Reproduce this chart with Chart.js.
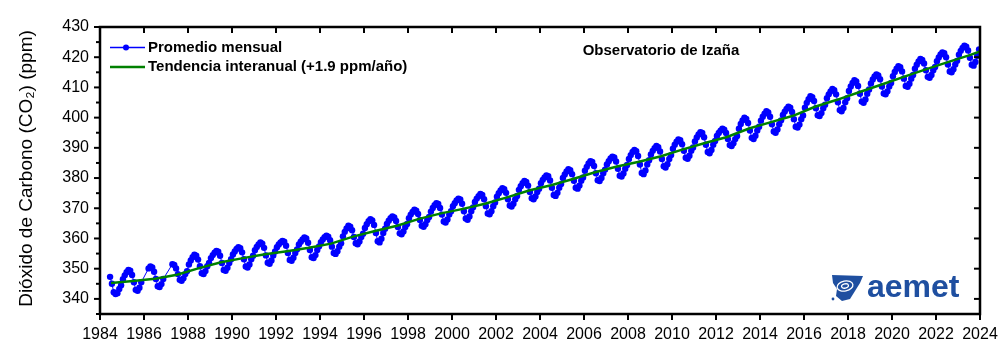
<!DOCTYPE html>
<html>
<head>
<meta charset="utf-8">
<script src="https://cdn.jsdelivr.net/npm/chart.js@4.4.1/dist/chart.umd.min.js"></script>
<style>
  html, body { margin: 0; padding: 0; background: #fff; }
</style>
</head>
<body>
<canvas id="co2Chart" width="1000" height="361"></canvas>
<script>
// monthly means at Izaña, Jan..Dec per row, starting Jan 1984 (null = no data)
const startYear = 1984;
const co2Monthly = [
    null, null, null, null, null, 347.3, 345.0, 342.2, 341.6, 341.9, 343.3, 344.5,
    346.5, 347.8, 348.8, 349.6, 349.3, 347.9, 345.5, 343.0, 342.7, 343.7, 345.5, null,
    null, null, 350.1, 350.7, 350.4, 349.0, 346.6, 344.2, 343.9, 344.9, 346.6, null,
    null, null, null, 351.5, 351.2, 350.1, 348.2, 346.3, 346.0, 346.8, 348.2, 349.2,
    351.4, 352.7, 353.8, 354.6, 354.3, 353.0, 350.8, 348.5, 348.2, 349.2, 350.8, 351.9,
    353.5, 354.5, 355.3, 355.9, 355.6, 354.3, 351.9, 349.6, 349.3, 350.3, 351.9, 353.1,
    354.7, 355.7, 356.5, 357.1, 356.8, 355.4, 353.1, 350.7, 350.4, 351.4, 353.1, 354.3,
    356.1, 357.2, 358.0, 358.7, 358.3, 356.9, 354.4, 352.0, 351.6, 352.7, 354.4, 355.7,
    357.1, 358.0, 358.7, 359.2, 358.9, 357.6, 355.2, 352.9, 352.6, 353.6, 355.2, 356.4,
    358.0, 358.9, 359.7, 360.3, 360.0, 358.6, 356.2, 353.8, 353.5, 354.5, 356.2, 357.4,
    358.8, 359.7, 360.4, 360.9, 360.6, 359.4, 357.3, 355.2, 354.9, 355.8, 357.3, 358.4,
    360.7, 362.2, 363.3, 364.2, 363.9, 362.7, 360.5, 358.4, 358.1, 359.0, 360.5, 361.6,
    363.5, 364.7, 365.7, 366.4, 366.0, 364.5, 361.8, 359.1, 358.7, 359.9, 361.8, 363.2,
    364.8, 365.9, 366.7, 367.3, 367.0, 365.8, 363.8, 361.7, 361.4, 362.3, 363.8, 364.8,
    366.7, 367.9, 368.8, 369.5, 369.2, 368.1, 366.1, 364.2, 363.9, 364.7, 366.1, 367.1,
    368.9, 370.1, 371.0, 371.7, 371.4, 370.1, 367.9, 365.6, 365.3, 366.3, 367.9, 369.0,
    370.7, 371.7, 372.6, 373.2, 372.9, 371.5, 369.0, 366.6, 366.2, 367.3, 369.0, 370.3,
    372.1, 373.2, 374.0, 374.7, 374.4, 373.0, 370.7, 368.3, 368.0, 369.0, 370.7, 371.9,
    373.8, 375.0, 375.9, 376.6, 376.3, 375.1, 373.0, 370.9, 370.6, 371.5, 373.0, 374.1,
    376.1, 377.3, 378.3, 379.0, 378.7, 377.5, 375.4, 373.3, 373.0, 373.9, 375.4, 376.5,
    378.3, 379.4, 380.2, 380.9, 380.6, 379.2, 376.8, 374.4, 374.1, 375.1, 376.8, 378.0,
    380.0, 381.2, 382.2, 382.9, 382.6, 381.3, 379.1, 376.8, 376.5, 377.5, 379.1, 380.2,
    382.4, 383.7, 384.8, 385.6, 385.3, 384.0, 381.6, 379.3, 379.0, 380.0, 381.6, 382.8,
    384.5, 385.6, 386.5, 387.1, 386.8, 385.5, 383.1, 380.8, 380.5, 381.5, 383.1, 384.3,
    386.3, 387.6, 388.6, 389.3, 388.9, 387.3, 384.5, 381.7, 381.3, 382.5, 384.5, 385.9,
    387.8, 389.0, 389.9, 390.6, 390.2, 388.8, 386.3, 383.9, 383.5, 384.6, 386.3, 387.6,
    389.7, 391.0, 392.0, 392.8, 392.5, 391.2, 389.0, 386.7, 386.4, 387.4, 389.0, 390.1,
    392.1, 393.4, 394.4, 395.2, 394.9, 393.5, 391.0, 388.6, 388.2, 389.3, 391.0, 392.3,
    393.9, 394.9, 395.7, 396.3, 396.0, 394.9, 392.9, 390.9, 390.6, 391.5, 392.9, 393.9,
    396.3, 397.9, 399.1, 400.0, 399.6, 398.2, 395.7, 393.3, 392.9, 394.0, 395.7, 397.0,
    399.0, 400.3, 401.3, 402.1, 401.7, 400.3, 397.8, 395.4, 395.0, 396.1, 397.8, 399.1,
    400.9, 402.0, 402.9, 403.6, 403.3, 401.9, 399.5, 397.0, 396.7, 397.7, 399.5, 400.7,
    403.3, 404.9, 406.1, 407.1, 406.8, 405.5, 403.1, 400.8, 400.5, 401.5, 403.1, 404.3,
    406.4, 407.7, 408.7, 409.5, 409.1, 407.7, 405.1, 402.5, 402.1, 403.2, 405.1, 406.4,
    408.8, 410.3, 411.5, 412.4, 412.0, 410.5, 407.9, 405.3, 404.9, 406.0, 407.9, 409.3,
    411.3, 412.6, 413.6, 414.3, 414.0, 412.7, 410.3, 408.0, 407.7, 408.7, 410.3, 411.5,
    413.7, 415.1, 416.2, 417.0, 416.7, 415.3, 412.9, 410.5, 410.2, 411.2, 412.9, 414.1,
    416.2, 417.5, 418.6, 419.4, 419.1, 417.9, 415.7, 413.5, 413.2, 414.1, 415.7, 416.8,
    418.7, 419.9, 420.9, 421.6, 421.3, 420.0, 417.6, 415.3, 415.0, 416.0, 417.6, 418.8,
    420.8, 422.1, 423.1, 423.8, 423.5, 422.2, 419.8, 417.5, 417.2, 418.4, 420.5, 422.6
];

// interannual trend (deseasonalised)
const trendYears = [1984.5, 1985.5, 1986.5, 1987.5, 1988.5, 1989.5, 1990.5, 1991.5, 1992.5, 1993.5,
    1994.5, 1995.5, 1996.5, 1997.5, 1998.5, 1999.5, 2000.5, 2001.5, 2002.5, 2003.5,
    2004.5, 2005.5, 2006.5, 2007.5, 2008.5, 2009.5, 2010.5, 2011.5, 2012.5, 2013.5,
    2014.5, 2015.5, 2016.5, 2017.5, 2018.5, 2019.5, 2020.5, 2021.5, 2022.5, 2023.5, 2024.0];
const trendValues = [345.3, 345.9, 346.7, 348.0, 350.2, 352.1, 353.5, 354.8, 355.8, 356.9,
    358.3, 360.6, 362.5, 364.2, 366.5, 368.3, 369.8, 371.5, 373.6, 375.9,
    377.6, 379.7, 381.9, 383.8, 385.4, 387.2, 389.5, 391.6, 393.6, 396.4,
    398.5, 400.6, 403.6, 405.9, 408.4, 410.9, 413.4, 415.9, 418.3, 420.6, 421.9];

const xTicks = [1984, 1986, 1988, 1990, 1992, 1994, 1996, 1998, 2000, 2002, 2004,
    2006, 2008, 2010, 2012, 2014, 2016, 2018, 2020, 2022, 2024];
const yTicks = [340, 350, 360, 370, 380, 390, 400, 410, 420, 430];

const monthlyPoints = co2Monthly.map((v, i) => ({ x: startYear + (i + 0.5) / 12, y: v }));
const trendPoints = trendYears.map((t, i) => ({ x: t, y: trendValues[i] }));

const tickFont = { family: 'Liberation Sans, Arial, sans-serif', size: 16 };

function seg(ctx, x1, y1, x2, y2) {
    ctx.beginPath();
    ctx.moveTo(x1, y1);
    ctx.lineTo(x2, y2);
    ctx.stroke();
}

// frame, ticks, legend, labels and logo
const decorations = {
    id: 'decorations',
    afterDraw(chart) {
        const { ctx, chartArea: a, scales: { x, y } } = chart;
        ctx.save();
        ctx.strokeStyle = '#000';
        ctx.lineWidth = 2.5;
        ctx.strokeRect(a.left, a.top, a.right - a.left, a.bottom - a.top);

        ctx.lineWidth = 2;
        xTicks.forEach(t => {
            const px = x.getPixelForValue(t);
            seg(ctx, px, a.bottom, px, a.bottom + 6);
            seg(ctx, px, a.top, px, a.top + 6);
        });
        yTicks.forEach(v => {
            const py = y.getPixelForValue(v);
            seg(ctx, a.left - 6, py, a.left, py);
            seg(ctx, a.right - 6, py, a.right, py);
            const pm = y.getPixelForValue(v - 5);
            seg(ctx, a.left - 4, pm, a.left, pm);
        });

        // y axis title
        ctx.fillStyle = '#000';
        ctx.font = '19px "Liberation Sans", Arial, sans-serif';
        ctx.textAlign = 'center';
        ctx.textBaseline = 'middle';
        ctx.save();
        ctx.translate(27, (a.top + a.bottom) / 2 - 2);
        ctx.rotate(-Math.PI / 2);
        ctx.fillText('Dióxido de Carbono (CO₂) (ppm)', 0, 0);
        ctx.restore();

        // legend
        ctx.lineWidth = 1.5;
        ctx.strokeStyle = '#0000ff';
        seg(ctx, 110, 47.5, 145, 47.5);
        ctx.fillStyle = '#0000ff';
        ctx.beginPath();
        ctx.arc(126, 47.5, 3, 0, Math.PI * 2);
        ctx.fill();
        ctx.strokeStyle = '#008000';
        ctx.lineWidth = 2.5;
        seg(ctx, 110, 67, 145, 67);

        ctx.fillStyle = '#000';
        ctx.font = 'bold 15px "Liberation Sans", Arial, sans-serif';
        ctx.textAlign = 'left';
        ctx.fillText('Promedio mensual', 148, 47.5);
        ctx.fillText('Tendencia interanual (+1.9 ppm/año)', 148, 67);
        ctx.textAlign = 'center';
        ctx.fillText('Observatorio de Izaña', 661, 51);

        // aemet logo
        ctx.fillStyle = '#1f4fa0';
        ctx.beginPath();
        ctx.moveTo(832, 275);
        ctx.lineTo(863, 276);
        ctx.lineTo(860, 283);
        ctx.lineTo(855, 291);
        ctx.lineTo(850, 299);
        ctx.lineTo(842, 301);
        ctx.lineTo(836, 296);
        ctx.lineTo(837, 289);
        ctx.lineTo(833, 283);
        ctx.closePath();
        ctx.fill();
        ctx.strokeStyle = '#fff';
        ctx.lineWidth = 1.3;
        ctx.beginPath();
        ctx.ellipse(845, 286, 8, 5, -0.2, 0, Math.PI * 2);
        ctx.stroke();
        ctx.beginPath();
        ctx.ellipse(845, 286, 3.5, 2.2, -0.2, 0, Math.PI * 2);
        ctx.stroke();
        ctx.fillStyle = '#1f4fa0';
        ctx.beginPath();
        ctx.arc(833, 299, 1.4, 0, Math.PI * 2);
        ctx.fill();
        ctx.font = 'bold 32px "Liberation Sans", Arial, sans-serif';
        ctx.textAlign = 'left';
        ctx.textBaseline = 'alphabetic';
        ctx.fillText('aemet', 867, 297);
        ctx.restore();
    }
};

const ctx = document.getElementById('co2Chart').getContext('2d');
new Chart(ctx, {
    type: 'line',
    data: {
        datasets: [{
            label: 'Tendencia interanual (+1.9 ppm/año)',
            data: trendPoints,
            borderColor: '#008000',
            borderWidth: 2.5,
            pointRadius: 0,
            order: 0
        }, {
            label: 'Promedio mensual',
            data: monthlyPoints,
            borderColor: '#0000ff',
            backgroundColor: '#0000ff',
            borderWidth: 1,
            pointRadius: 3.2,
            pointBorderWidth: 0,
            spanGaps: true,
            order: 1
        }]
    },
    options: {
        responsive: false,
        animation: false,
        layout: { padding: { top: 27, right: 20, left: 0, bottom: 0 } },
        plugins: {
            legend: { display: false },
            tooltip: { enabled: false }
        },
        scales: {
            x: {
                type: 'linear',
                min: 1984,
                max: 2024,
                afterFit: s => { s.height = 47; s.paddingLeft = 0; s.paddingRight = 0; },
                afterBuildTicks: s => { s.ticks = xTicks.map(v => ({ value: v })); },
                grid: { display: false, drawTicks: false },
                border: { display: false },
                ticks: {
                    font: tickFont,
                    color: '#000',
                    padding: 11,
                    maxRotation: 0,
                    autoSkip: false,
                    callback: v => String(v)
                }
            },
            y: {
                min: 335,
                max: 430,
                afterFit: s => { s.width = 100; s.paddingTop = 0; s.paddingBottom = 0; },
                afterBuildTicks: s => { s.ticks = yTicks.map(v => ({ value: v })); },
                grid: { display: false, drawTicks: false },
                border: { display: false },
                ticks: {
                    font: tickFont,
                    color: '#000',
                    padding: 11,
                    callback: v => String(v)
                }
            }
        }
    },
    plugins: [decorations]
});
</script>
</body>
</html>
